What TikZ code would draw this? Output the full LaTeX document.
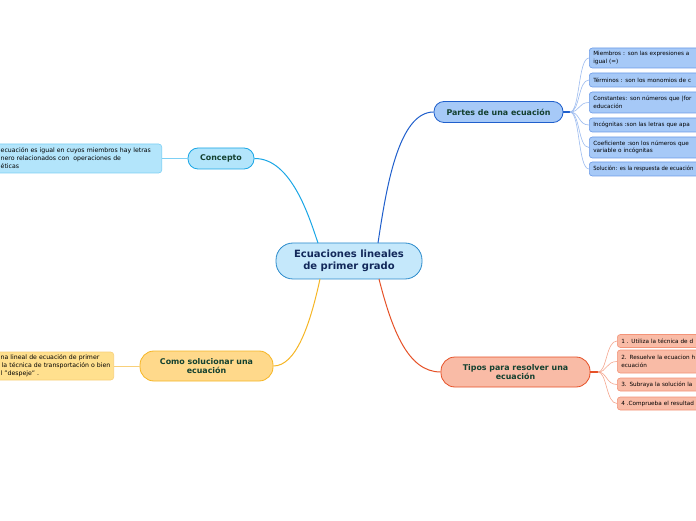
\documentclass[tikz,border=0pt]{standalone}
\usepackage{fontspec}
\setmainfont{DejaVu Sans}
\usetikzlibrary{calc}
\definecolor{cenfill}{HTML}{C5E8FB}\definecolor{cenline}{HTML}{2A8ACB}\definecolor{centext}{HTML}{12285A}
\definecolor{cofill}{HTML}{B3E5FB}\definecolor{coline}{HTML}{19A6E6}\definecolor{colight}{HTML}{7DD0F5}
\definecolor{pafill}{HTML}{A6C9F7}\definecolor{paline}{HTML}{1F5FCC}\definecolor{palight}{HTML}{6C9BE8}\definecolor{paconn}{HTML}{9DBCF0}
\definecolor{sofill}{HTML}{FFD98B}\definecolor{soline}{HTML}{F6B625}\definecolor{solight}{HTML}{F8D07A}\definecolor{soleaf}{HTML}{FFE08E}
\definecolor{tifill}{HTML}{F9BBA6}\definecolor{tiline}{HTML}{E65127}\definecolor{tilight}{HTML}{F39378}\definecolor{ticonn}{HTML}{F5A68E}
\definecolor{nodetext}{HTML}{13402F}
\tikzset{
  central/.style={draw=cenline, fill=cenfill, line width=0.8pt, rounded corners=17pt, minimum width=146pt, minimum height=36pt, align=center, font=\fontsize{10}{11.5}\selectfont\bfseries, text=centext, inner sep=0pt},
  mainnode/.style={draw=#1line, fill=#1fill, line width=0.8pt, rounded corners=10pt, align=center, font=\fontsize{7.9}{8.6}\selectfont\bfseries, text=nodetext, inner sep=0pt},
  leaf/.style={draw=#1, line width=0.6pt, rounded corners=3pt, anchor=west, align=left, font=\fontsize{5.7}{7.6}\selectfont, text=black, inner xsep=4pt, inner ysep=0pt, minimum width=150pt, text width=142pt},
  sideleaf/.style={leaf=#1, anchor=east, inner xsep=0pt, font=\fontsize{6.2}{8}\selectfont},
  mainconn/.style={draw=#1, line width=1pt},
  leafconn/.style={draw=#1, line width=0.6pt},
}
\begin{document}
\begin{tikzpicture}[x=1pt,y=1pt]
\useasboundingbox (0,0) rectangle (696,520);
\clip (0,0) rectangle (696,520);
\fill[white] (0,0) rectangle (696,520);

% connector end points on the central topic
\coordinate (ctl) at (318,277);
\coordinate (ctr) at (378,277);
\coordinate (cbl) at (320,241);
\coordinate (cbr) at (379,241);
\coordinate (phub) at (570,408);
\coordinate (thub) at (598,148);

% main nodes
\node[central] (c) at (349,259) {Ecuaciones lineales\\de primer grado};
\node[mainnode=co, minimum width=66pt, minimum height=21pt] (co) at (221,361.5) {Concepto};
\node[mainnode=pa, minimum width=129pt, minimum height=21pt] (pa) at (498.5,408) {Partes de una ecuación};
\node[mainnode=so, minimum width=133pt, minimum height=30pt, rounded corners=14pt] (so) at (206.5,154) {Como solucionar una\\ecuación};
\node[mainnode=ti, minimum width=149pt, minimum height=30pt, rounded corners=14pt] (ti) at (515.5,148) {Tipos para resolver una\\ecuación};

\draw[mainconn=coline] (co.east) .. controls (292,362) and (310,300) .. (ctl);
\draw[mainconn=paline] (ctr) .. controls (386,330) and (398,408) .. (pa.west);
\draw[mainconn=soline] (cbl) .. controls (310,195) and (296,154) .. (so.east);
\draw[mainconn=tiline] (cbr) .. controls (392,190) and (408,148) .. (ti.west);

% concept leaf
\node[sideleaf=colight, fill=cofill, minimum width=172pt, text width=172pt, minimum height=29pt] (col) at (162,361.5) {\hspace*{11pt}ecuación es igual en cuyos miembros hay letras\\\hspace*{11pt}nero relacionados con\ \ operaciones de\\\hspace*{11pt}éticas};
\draw[leafconn=colight] (co.west) -- (col.east);

% solve leaf
\node[sideleaf=solight, fill=soleaf, minimum width=124pt, text width=124pt, minimum height=28pt] (sol) at (114,154) {\hspace*{11pt}na lineal de ecuación de primer\\\hspace*{10pt} la técnica de transportación o bien\\\hspace*{11pt}l "despeje" .};
\draw[leafconn=solight] (so.west) -- (sol.east);

% partes leaves
\draw[line width=1.2pt, paline] (pa.east) -- (phub);
\node[leaf=palight, fill=pafill, minimum height=20pt] (p1) at (589,462) {Miembros : son las expresiones a\\igual (=)};
\node[leaf=palight, fill=pafill, minimum height=14pt] (p2) at (589,440) {Términos : son los monomios de c};
\node[leaf=palight, fill=pafill, minimum height=21pt] (p3) at (589,417.5) {Constantes: son números que |for\\educación};
\node[leaf=palight, fill=pafill, minimum height=14pt] (p4) at (589,395) {Incógnitas :son las letras que apa};
\node[leaf=palight, fill=pafill, minimum height=21pt] (p5) at (589,372.5) {Coeficiente :son los números que\\variable o incógnitas};
\node[leaf=palight, fill=pafill, minimum height=14pt] (p6) at (589,351) {\scalebox{0.92}[1]{Solución: es la respuesta de ecuación}};
\foreach \n in {p1,p2,p3,p4,p5,p6}{
  \draw[leafconn=paconn] (phub) .. controls (580,408) and (578,408|-\n.west) .. (\n.west);
}

% tipos leaves
\draw[line width=1.2pt, tiline] (ti.east) -- (thub);
\node[leaf=tilight, fill=tifill, minimum height=13pt] (t1) at (617,179) {1 . Utiliza la técnica de d};
\node[leaf=tilight, fill=tifill, minimum height=23pt] (t2) at (617,158.5) {2. Resuelve la ecuacion h\\ecuación};
\node[leaf=tilight, fill=tifill, minimum height=13pt] (t3) at (617,135.5) {3. Subraya la solución la};
\node[leaf=tilight, fill=tifill, minimum height=13pt] (t4) at (617,116.5) {4 .Comprueba el resultad};
\foreach \n in {t1,t2,t3,t4}{
  \draw[leafconn=ticonn] (thub) .. controls (607,148) and (606,148|-\n.west) .. (\n.west);
}
\end{tikzpicture}
\end{document}
